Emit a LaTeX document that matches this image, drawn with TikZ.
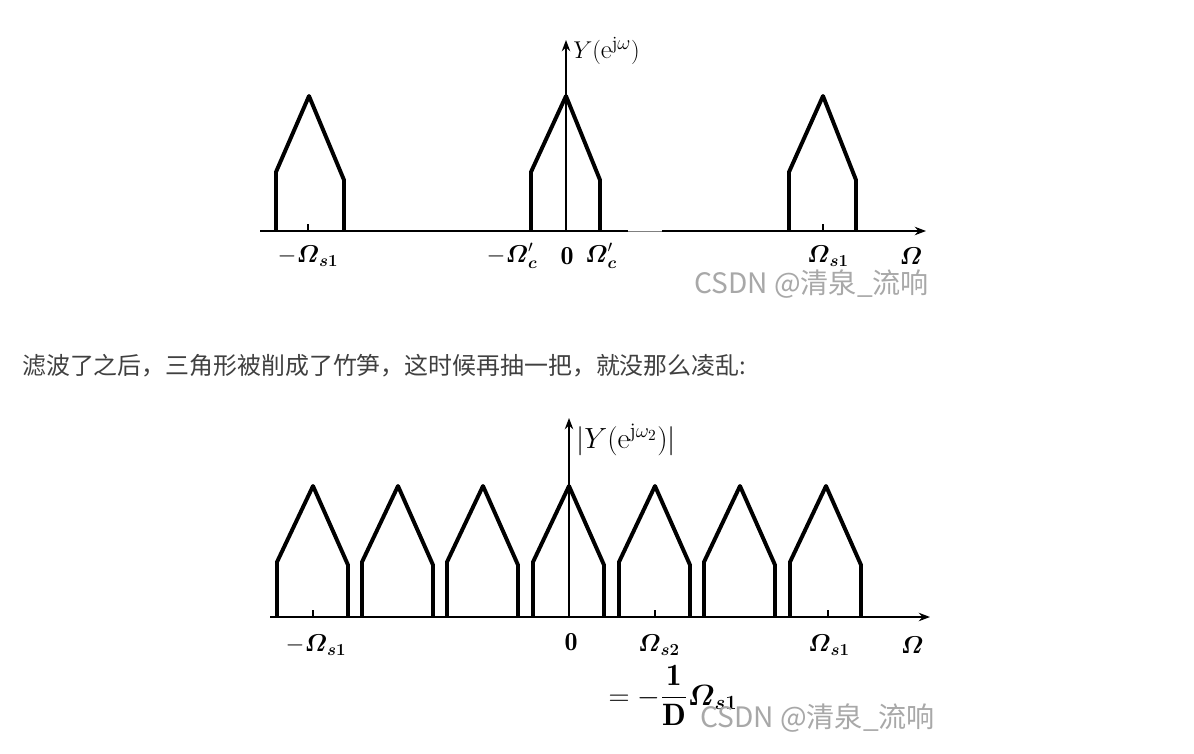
\documentclass[tikz,border=0pt]{standalone}
\usepackage{amsmath,amssymb}
\usepackage{fontspec}
\usepackage{xcolor}
\usetikzlibrary{arrows.meta,positioning}
\newfontfamily\cjk{Noto Sans CJK SC}
\definecolor{bodytext}{HTML}{404040}
\definecolor{wmgray}{HTML}{A8A8A8}
\newcommand{\BOm}{\boldsymbol{\varOmega}}

\begin{document}
\begin{tikzpicture}[
    x=0.025cm, y=-0.025cm,
    spec/.style={line width=2.8pt, line join=round},
    axisline/.style={line width=1.8pt},
    axis/.style={line width=1.8pt, -{Stealth[length=8pt,width=6pt]}},
    smalltick/.style={line width=1pt},
    lbl/.style={font=\fontsize{18.5}{22}\selectfont, inner sep=0pt},
    ylbl/.style={font=\fontsize{19}{22}\selectfont, inner sep=0pt, anchor=west},
    wmark/.style={font=\cjk\fontsize{20}{24}\selectfont, text=wmgray, inner sep=0pt, anchor=west}
]
\fill[white] (0,0) rectangle (1194,754);
\useasboundingbox (0,0) rectangle (1194,754);

% Top spectrum
\coordinate (a1) at (260,231);
\coordinate (g1) at (628,231);
\coordinate (h1) at (662,231);
\coordinate (x1) at (926,231);
\coordinate (o1) at (566,231);
\coordinate (y1) at (566,40);
\draw[axisline] (a1) -- (g1);
\draw[line width=0.6pt, gray] (g1) -- (h1);
\draw[axis] (h1) -- (x1);
\draw[axis] (o1) -- (y1);
\foreach \p/\a/\b in {309/276/344, 566/531/600, 823/789/856}
    \draw[spec] (\a,231) -- (\a,172) -- (\p,96) -- (\b,180) -- (\b,231);
\draw[smalltick] (308,231) -- (308,224);
\draw[smalltick] (823,231) -- (823,224);
\node[ylbl] (ylab1) at (573,51) {$Y(\mathrm{e}^{\mathrm{j}\omega})$};
\node[lbl] (ms1a) at (308,256) {$-\BOm_{\boldsymbol{s1}}$};
\node[lbl] (mc) at (512,256) {$-\BOm'_{\boldsymbol{c}}$};
\node[lbl] (z1) at (567,256) {$\mathbf{0}$};
\node[lbl] (pc) at (601,256) {$\BOm'_{\boldsymbol{c}}$};
\node[lbl] (s1a) at (828,256) {$\BOm_{\boldsymbol{s1}}$};
\node[lbl] (om1) at (911,256) {$\BOm$};
\node[wmark] (wm1) at (694,284) {CSDN @清泉\_流响};

% Text between the two plots
\node[font=\cjk\fontsize{17}{20}\selectfont, text=bodytext, anchor=west, inner sep=0pt] (note) at (22,366)
    {滤波了之后，三角形被削成了竹笋，这时候再抽一把，就没那么凌乱:};

% Bottom spectrum
\coordinate (a2) at (270,617);
\coordinate (x2) at (930,617);
\coordinate (o2) at (569,617);
\coordinate (y2) at (569,418);
\draw[axis] (a2) -- (x2);
\draw[axis] (o2) -- (y2);
\foreach \p in {313,398,483,569,655,740,826}
    \draw[spec] (\p-36,617) -- (\p-36,562) -- (\p,486) -- (\p+35,565) -- (\p+35,617);
\draw[smalltick] (313,617) -- (313,610);
\draw[smalltick] (655,617) -- (655,610);
\draw[smalltick] (828,617) -- (828,610);
\node[ylbl, font=\fontsize{21}{24}\selectfont] (ylab2) at (576,440) {$|Y(\mathrm{e}^{\mathrm{j}\omega_2})|$};
\node[lbl] (ms1b) at (316,645) {$-\BOm_{\boldsymbol{s1}}$};
\node[lbl] (z2) at (571,642) {$\mathbf{0}$};
\node[lbl] (s2) at (659,645) {$\BOm_{\boldsymbol{s2}}$};
\node[lbl] (s1b) at (829,645) {$\BOm_{\boldsymbol{s1}}$};
\node[lbl] (om2) at (912,645) {$\BOm$};
\node[lbl, font=\fontsize{22}{26}\selectfont] (eq) at (673,695) {$=-\dfrac{\mathbf{1}}{\mathbf{D}}\BOm_{\boldsymbol{s1}}$};
\node[wmark] (wm2) at (700,718) {CSDN @清泉\_流响};

\end{tikzpicture}
\end{document}
